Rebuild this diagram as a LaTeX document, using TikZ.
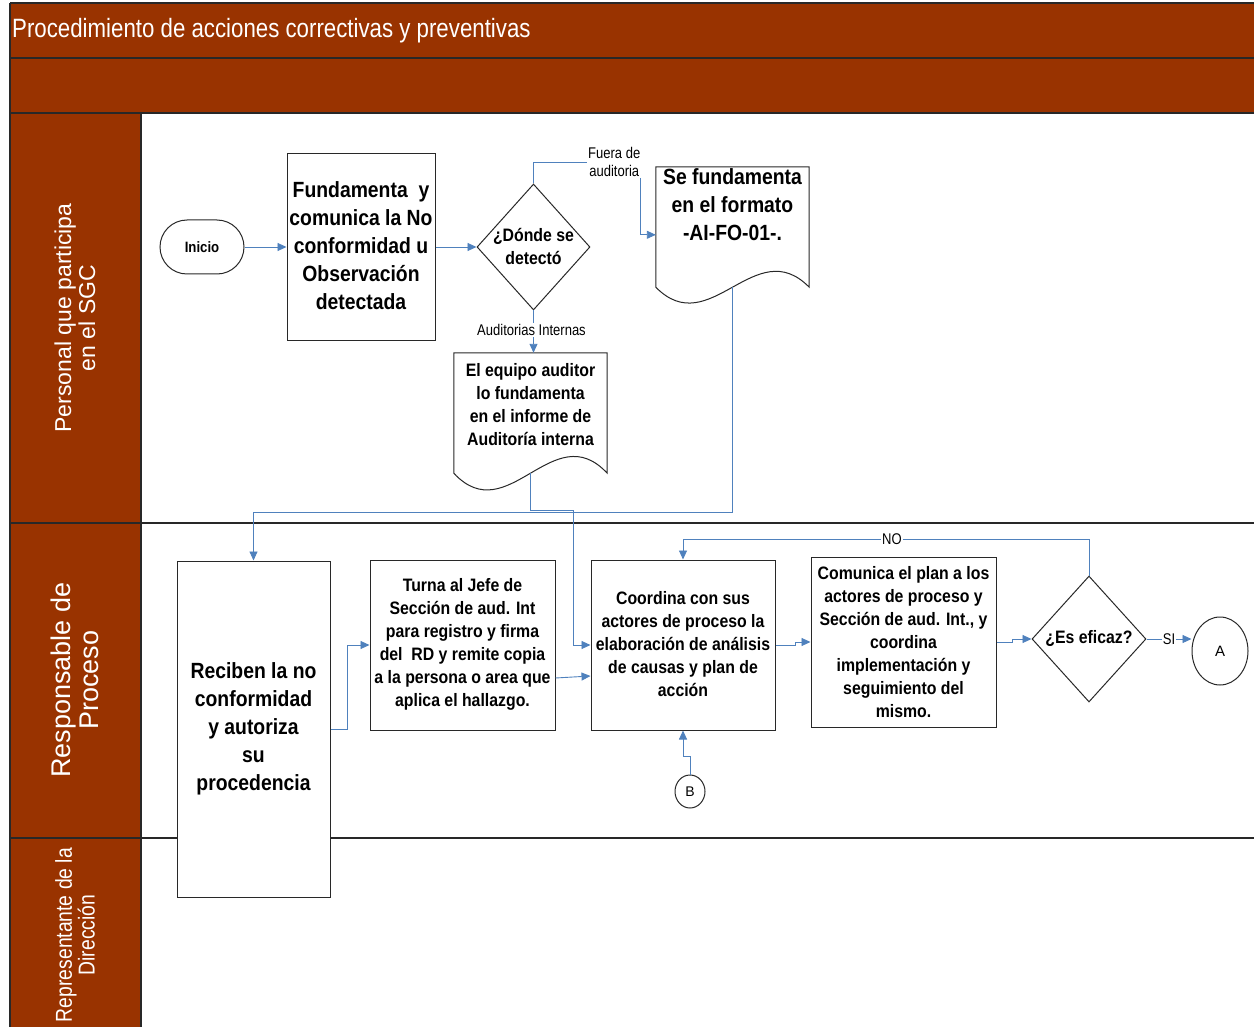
\documentclass[tikz,border=0pt]{standalone}
\usepackage{fontspec}
\setmainfont{Liberation Sans}
\newfontfamily\bnarrow[FakeStretch=0.88]{Liberation Sans}
\newfontfamily\rnarrow[FakeStretch=0.84]{Liberation Sans}
\usetikzlibrary{shapes.geometric,arrows.meta,calc}
\definecolor{lanebrown}{RGB}{153,51,0}
\definecolor{flowblue}{RGB}{79,129,189}
\definecolor{edgegray}{RGB}{40,40,40}
\tikzset{
  laneline/.style={draw=edgegray,line width=1.1pt},
  boxn/.style={draw=edgegray,line width=1pt,fill=white,inner sep=0pt},
  txt/.style={align=center,inner sep=0pt,font=\bnarrow\bfseries\fontsize{18}{23}\selectfont},
  bigtxt/.style={align=center,inner sep=0pt,font=\bnarrow\bfseries\fontsize{22}{28}\selectfont},
  conn/.style={draw=flowblue,line width=0.9pt},
  arr/.style={conn,-{Triangle[length=9pt,width=8pt]}},
  lbl/.style={font=\rnarrow\fontsize{15.5}{18}\selectfont,fill=white,inner sep=1pt,align=center},
  lanelbl/.style={rotate=90,text=white,align=center,inner sep=0pt}
}
\begin{document}
\begin{tikzpicture}[x=1pt,y=-1pt]
\useasboundingbox (0,0) rectangle (1254,1027);
% header bands and lane column
\fill[lanebrown] (10,3) rectangle (1254,113);
\fill[lanebrown] (10,113) rectangle (141,1027);
\draw[laneline] (10,3) -- (1254,3);
\draw[laneline] (10,58) -- (1254,58);
\draw[laneline] (10,113) -- (1254,113);
\draw[laneline] (10,3) -- (10,1027);
\draw[laneline] (141,113) -- (141,1027);
\draw[laneline] (10,523) -- (1254,523);
\draw[laneline] (10,838) -- (1254,838);
\node[anchor=west,text=white,inner sep=0pt,font=\rnarrow\fontsize{26.5}{30}\selectfont] (title) at (12,31) {Procedimiento de acciones correctivas y preventivas};
% lane labels
\node[lanelbl,font=\fontsize{23}{24}\selectfont] (lane1) at (75,318) {Personal que participa\\en el SGC};
\node[lanelbl,font=\fontsize{27}{28}\selectfont] (lane2) at (75,680) {Responsable de\\Proceso};
\node[lanelbl,font=\rnarrow\fontsize{23}{21}\selectfont] (lane3) at (75,935) {Representante de la\\Dirección};

% lane 1 shapes
\node[boxn,rounded corners=27pt,minimum width=84pt,minimum height=54pt,font=\bnarrow\bfseries\fontsize{15}{18}\selectfont] (ini) at (202,247) {Inicio};
\node[boxn,minimum width=148pt,minimum height=186pt] (f1) at (361,247) {};
\node[bigtxt] (f1t) at (361,246) {Fundamenta \ y\\comunica la No\\conformidad u\\Observación\\detectada};
\node[boxn,diamond,minimum width=113pt,minimum height=126pt] (d1) at (533.5,247) {};
\node[txt] (d1t) at (533.5,246) {¿Dónde se\\detectó};
% document 1
\node[minimum width=153pt,minimum height=120pt,inner sep=0pt] (doc1) at (732.5,227) {};
\path[boxn] (doc1.south west) -- (doc1.north west) -- (doc1.north east) -- (doc1.south east)
  .. controls ($(doc1.south east)+(-54,-55)$) and ($(doc1.south west)+(54,55)$) .. (doc1.south west) -- cycle;
\node[bigtxt] (doc1t) at (732.5,205) {Se fundamenta\\en el formato\\-AI-FO-01-.};
\coordinate (doc1b) at (doc1.south);
% document 2
\node[minimum width=153pt,minimum height=120pt,inner sep=0pt] (doc2) at (530.5,413) {};
\path[boxn] (doc2.south west) -- (doc2.north west) -- (doc2.north east) -- (doc2.south east)
  .. controls ($(doc2.south east)+(-54,-58)$) and ($(doc2.south west)+(54,58)$) .. (doc2.south west) -- cycle;
\node[txt] (doc2t) at (530.5,405) {El equipo auditor\\lo fundamenta\\en el informe de\\Auditoría interna};
\coordinate (doc2b) at (doc2.south);

% lane 2 shapes
\node[boxn,minimum width=153pt,minimum height=336pt] (r1) at (253.5,729) {};
\node[bigtxt] (r1t) at (253.5,728.5) {Reciben la no\\conformidad\\y autoriza\\su\\procedencia};
\node[boxn,minimum width=185pt,minimum height=170pt] (tu) at (462.5,645) {};
\node[txt] (tut) at (462.5,644) {Turna al Jefe de\\Sección de aud. Int\\para registro y firma\\del \ RD y remite copia\\a la persona o area que\\aplica el hallazgo.};
\node[boxn,minimum width=184pt,minimum height=170pt] (co) at (683,645) {};
\node[txt] (cot) at (683,644) {Coordina con sus\\actores de proceso la\\elaboración de análisis\\de causas y plan de\\acción};
\node[boxn,minimum width=185pt,minimum height=170pt] (cm) at (903.5,642) {};
\node[txt] (cmt) at (903.5,642) {Comunica el plan a los\\actores de proceso y\\Sección de aud. Int., y\\coordina\\implementación y\\seguimiento del\\mismo.};
\node[boxn,diamond,minimum width=114pt,minimum height=126pt] (d2) at (1089,639) {};
\node[txt] (d2t) at (1089,639) {¿Es eficaz?};
\node[boxn,ellipse,minimum width=56pt,minimum height=68pt,font=\fontsize{15}{18}\selectfont] (A) at (1220,651) {A};
\node[boxn,ellipse,minimum width=30pt,minimum height=33pt,font=\fontsize{14}{16}\selectfont] (B) at (690,791.5) {B};

% connectors
\draw[arr] (ini.east) -- (f1.west);
\draw[arr] (f1.east) -- (d1.west);
\node[lbl,anchor=west] (fuera) at (587,162) {Fuera de\\auditoria};
\draw[conn] (d1.north) |- (fuera.west);
\coordinate (doc1in) at ($(doc1.north west)+(0,68)$);
\draw[arr] ($(fuera.south east)+(-1,0)$) |- (doc1in);
\draw[arr] (d1.south) -- (d1.south |- doc2.north);
\node[lbl] (ai) at (531.5,330) {Auditorias Internas};
\draw[arr] (doc1b) -- ++(0,225) -| (r1.north);
\draw[arr] (doc2b) -- ++(0,37) -- ++(43,0) |- (co.west);
\draw[arr] (r1.east) -- ++(17,0) |- (tu.west);
\draw[arr] ($(tu.east)+(0,33)$) -- ($(co.west)+(0,31)$);
\draw[arr] (co.east) -- ++(20,0) |- (cm.west);
\draw[arr] (cm.east) -- ++(16,0) |- (d2.west);
\draw[arr] (d2.east) -- (A.west |- d2.east);
\node[lbl] (si) at (1169,639) {SI};
\draw[arr] (d2.north) -- ++(0,-36) -| (co.north);
\node[lbl] (no) at (892,539) {NO};
\draw[arr] (B.north) -- ++(0,-18) -| (co.south);
\end{tikzpicture}
\end{document}
